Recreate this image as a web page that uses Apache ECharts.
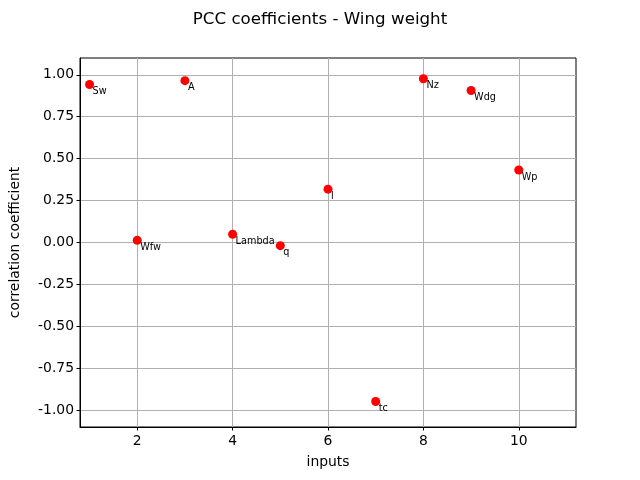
<!DOCTYPE html>
<html><head><meta charset="utf-8">
<script src="https://cdn.jsdelivr.net/npm/echarts@6/dist/echarts.min.js"></script>
<style>html,body{margin:0;padding:0;background:#fff}#c{width:640px;height:480px}</style>
</head><body><div id="c"></div>
<script>
const inputNames = ['Sw','Wfw','A','Lambda','q','l','tc','Nz','Wdg','Wp'];
const inputIndex = [1,2,3,4,5,6,7,8,9,10];
const pccValues = [0.942, 0.013, 0.965, 0.049, -0.019, 0.318, -0.948, 0.976, 0.906, 0.432];
const xTicks = [2,4,6,8,10];
const yTicks = [-1,-0.75,-0.5,-0.25,0,0.25,0.5,0.75,1];

const font = 'DejaVu Sans';
const chart = echarts.init(document.getElementById('c'), null, {renderer:'canvas'});
chart.setOption({
  animation:false,
  backgroundColor:'#fff',
  title:{text:'PCC coefficients - Wing weight', left:'center', top:6,
    textStyle:{fontFamily:font, fontSize:16.7, fontWeight:'normal', color:'#000'}},
  grid:{left:80, right:64, top:58, bottom:53, show:true, borderColor:'#000', borderWidth:1, backgroundColor:'transparent'},
  xAxis:{type:'value', min:0.8, max:11.2,
    name:'inputs', nameLocation:'middle', nameGap:28,
    nameTextStyle:{fontFamily:font, fontSize:13.9, color:'#000'},
    axisLine:{show:true, onZero:false, lineStyle:{color:'#000', width:1}},
    axisTick:{show:true, length:3.5, customValues:xTicks, lineStyle:{color:'#000'}},
    axisLabel:{customValues:xTicks, margin:7, fontFamily:font, fontSize:13.9, color:'#000'},
    splitLine:{show:true, lineStyle:{color:'#b0b0b0', width:1}}
  },
  yAxis:{type:'value', min:-1.1, max:1.1,
    name:'correlation coefficient', nameLocation:'middle', nameGap:58,
    nameTextStyle:{fontFamily:font, fontSize:13.9, color:'#000'},
    axisLine:{show:true, onZero:false, lineStyle:{color:'#000', width:1}},
    axisTick:{show:true, length:3.5, customValues:yTicks, lineStyle:{color:'#000'}},
    axisLabel:{customValues:yTicks, margin:6, fontFamily:font, fontSize:13.9, color:'#000',
      formatter:v=>v.toFixed(2)},
    splitLine:{show:true, lineStyle:{color:'#b0b0b0', width:1}}
  },
  series:[{
    type:'scatter',
    data:inputIndex.map((x,i)=>({value:[x,pccValues[i]], name:inputNames[i]})),
    symbol:'circle', symbolSize:9,
    itemStyle:{color:'#ff0000', opacity:1},
    label:{show:true, formatter:p=>p.name, position:[7.5,6.5], align:'left', verticalAlign:'top',
      fontFamily:font, fontSize:9.7, color:'#000', opacity:1}
  }]
});
</script></body></html>
